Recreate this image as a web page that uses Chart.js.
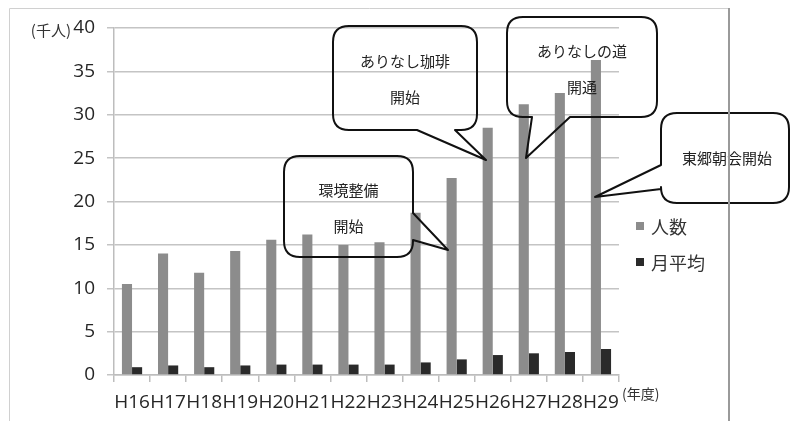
<!DOCTYPE html>
<html>
<head>
<meta charset="utf-8">
<script src="https://cdn.jsdelivr.net/npm/chart.js@4"></script>
<style>
  body { margin: 0; background: #fff; }
  canvas { display: block; }
</style>
</head>
<body>
<canvas id="visitantes" width="790" height="421"></canvas>
<script>
// años fiscales (eje x)
const years = ["H16", "H17", "H18", "H19", "H20", "H21", "H22", "H23", "H24", "H25", "H26", "H27", "H28", "H29"];
// 人数 (千人)
const visitors = [10.5, 14.0, 11.8, 14.3, 15.6, 16.2, 15.0, 15.3, 18.7, 22.7, 28.5, 31.2, 32.5, 36.3];
// 月平均 (千人)
const monthlyAvg = [0.9, 1.1, 0.9, 1.1, 1.2, 1.2, 1.2, 1.2, 1.45, 1.8, 2.3, 2.5, 2.65, 3.0];
const yTicks = { min: 0, max: 40, step: 5 };
const seriesNames = ["人数", "月平均"];

const JP = "'Noto Sans CJK JP', 'Open Sans', sans-serif";
const NUM = "'Open Sans', 'Noto Sans CJK JP', sans-serif";

// globos de texto (solo anotaciones, no datos)
const callouts = [
    { lines: ["環境整備", "開始"], x: 284, y: 156, w: 129, h: 101, side: "right", b1: 213, b2: 240, tip: [448, 250] },
    { lines: ["ありなし珈琲", "開始"], x: 333, y: 26, w: 144, h: 104, side: "bottom", b1: 417, b2: 455, tip: [486, 160] },
    { lines: ["ありなしの道", "開通"], x: 507, y: 17, w: 150, h: 100, side: "bottom", b1: 532, b2: 570, tip: [526, 158] },
    { lines: ["東郷朝会開始"], x: 661, y: 113, w: 128, h: 90, side: "left", b1: 165, b2: 189, tip: [595, 197] },
];

function calloutPath(ctx, c) {
    const r = 16, x = c.x, y = c.y, w = c.w, h = c.h;
    ctx.beginPath();
    ctx.moveTo(x + r, y);
    ctx.lineTo(x + w - r, y);
    ctx.quadraticCurveTo(x + w, y, x + w, y + r);
    if (c.side === "right") {
        ctx.lineTo(x + w, c.b1);
        ctx.lineTo(c.tip[0], c.tip[1]);
        ctx.lineTo(x + w, c.b2);
    }
    ctx.lineTo(x + w, y + h - r);
    ctx.quadraticCurveTo(x + w, y + h, x + w - r, y + h);
    if (c.side === "bottom") {
        ctx.lineTo(c.b2, y + h);
        ctx.lineTo(c.tip[0], c.tip[1]);
        ctx.lineTo(c.b1, y + h);
    }
    ctx.lineTo(x + r, y + h);
    ctx.quadraticCurveTo(x, y + h, x, y + h - r);
    if (c.side === "left") {
        ctx.lineTo(x, c.b2);
        ctx.lineTo(c.tip[0], c.tip[1]);
        ctx.lineTo(x, c.b1);
    }
    ctx.lineTo(x, y + r);
    ctx.quadraticCurveTo(x, y, x + r, y);
    ctx.closePath();
}

const extras = {
    id: "extras",
    afterDraw(chart) {
        const ctx = chart.ctx;
        const yScale = chart.scales.y;
        const xScale = chart.scales.x;
        ctx.save();

        // unidades
        ctx.fillStyle = "#333";
        ctx.font = "15px " + JP;
        ctx.textBaseline = "middle";
        ctx.textAlign = "right";
        ctx.fillText("(千人)", 71, yScale.getPixelForValue(yTicks.max) + 2);
        ctx.font = "14px " + JP;
        ctx.textAlign = "left";
        ctx.fillText("(年度)", xScale.right + 3, yScale.bottom + 19);

        // leyenda
        chart.data.datasets.forEach((ds, i) => {
            const cy = 226 + i * 36;
            ctx.fillStyle = ds.backgroundColor;
            ctx.fillRect(636, cy - 4, 8, 8);
            ctx.fillStyle = "#333";
            ctx.font = "18px " + JP;
            ctx.textAlign = "left";
            ctx.fillText(ds.label, 651, cy + 1);
        });

        // globos
        ctx.lineWidth = 2;
        ctx.strokeStyle = "#111";
        ctx.lineJoin = "round";
        callouts.forEach(c => {
            calloutPath(ctx, c);
            ctx.stroke();
            ctx.fillStyle = "#222";
            ctx.font = "15px " + JP;
            ctx.textAlign = "center";
            const cx = c.x + c.w / 2;
            if (c.lines.length === 1) {
                ctx.fillText(c.lines[0], cx + 2, c.y + c.h / 2);
            } else {
                const top = c.y + c.h * 0.34;
                c.lines.forEach((t, k) => ctx.fillText(t, cx, top + k * 36));
            }
        });

        // marco
        ctx.strokeStyle = "#d0d0d0";
        ctx.lineWidth = 1;
        ctx.beginPath();
        ctx.moveTo(9.5, 421);
        ctx.lineTo(9.5, 8.5);
        ctx.lineTo(729, 8.5);
        ctx.stroke();
        ctx.strokeStyle = "#9a9a9a";
        ctx.lineWidth = 2;
        ctx.beginPath();
        ctx.moveTo(729, 8);
        ctx.lineTo(729, 421);
        ctx.stroke();
        ctx.restore();
    }
};

document.addEventListener("DOMContentLoaded", () => {
    const ctx = document.getElementById("visitantes").getContext("2d");
    new Chart(ctx, {
        type: "bar",
        data: {
            labels: years,
            datasets: [
                { label: seriesNames[0], data: visitors, backgroundColor: "#8c8c8c" },
                { label: seriesNames[1], data: monthlyAvg, backgroundColor: "#2a2a2a" },
            ],
        },
        options: {
            responsive: false,
            animation: false,
            events: [],
            layout: { padding: { top: 28, right: 171, left: 0, bottom: 0 } },
            datasets: { bar: { barPercentage: 1, categoryPercentage: 0.56 } },
            plugins: { legend: { display: false }, tooltip: { enabled: false } },
            scales: {
                x: {
                    afterFit: s => { s.height = 46; },
                    grid: { drawOnChartArea: false, drawTicks: true, tickLength: 7, color: "#bdbdbd", lineWidth: 1.5 },
                    border: { color: "#bdbdbd", width: 1.5 },
                    ticks: { color: "#262626", font: { family: NUM, size: 19 }, padding: 9, maxRotation: 0, autoSkip: false },
                },
                y: {
                    min: yTicks.min,
                    max: yTicks.max,
                    afterFit: s => { s.width = 114; },
                    grid: { color: "#c4c4c4", lineWidth: 1.5, tickLength: 7 },
                    border: { color: "#bdbdbd", width: 1.5 },
                    ticks: { stepSize: yTicks.step, color: "#262626", font: { family: NUM, size: 19 }, padding: 12 },
                },
            },
        },
        plugins: [extras],
    });
});
</script>
</body>
</html>
